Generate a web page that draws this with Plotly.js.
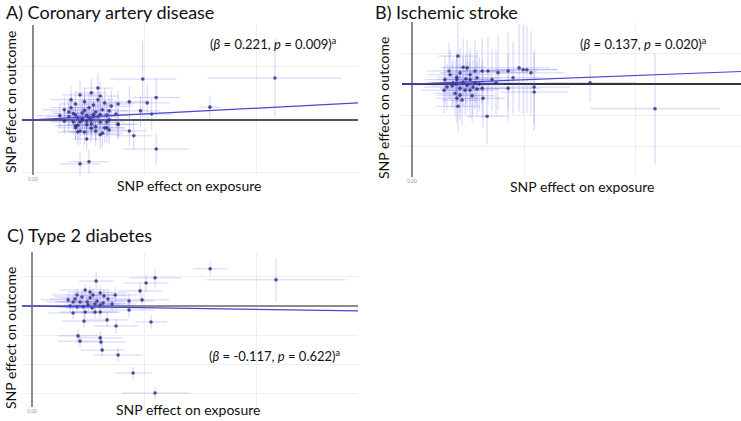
<!DOCTYPE html>
<html>
<head>
<meta charset="utf-8">
<script src="https://cdn.plot.ly/plotly-3.0.1.min.js"></script>
<style>
  html, body { margin: 0; padding: 0; background: #fff; }
  #graph { width: 741px; height: 421px; }
</style>
</head>
<body>
<div id="graph"></div>
<script>
// SNP effects: x = effect on exposure, y = effect on outcome,
// sx / sy = half width of the error bars

// A) Coronary artery disease
var cadX = [0.049,0.108,0.079,0.055,0.055,0.051,0.048,0.053,0.043,0.038,0.037,0.038,0.043,0.045,0.021,0.025,0.024,
  0.029,0.030,0.029,0.023,0.019,0.017,0.016,0.032,0.031,0.019,0.022,0.024,0.020,0.025,0.027,0.029,0.033,0.034,0.018,0.021,
  0.024,0.026,0.030,0.032,0.019,0.020,0.023,0.028,0.031,0.038,0.016,0.025,0.028,0.017,0.021,0.026,0.014,0.022,0.026,0.019,
  0.028,0.034,0.014,0.022,0.024,0.027,0.018,0.030,0.023,0.020,0.026,0.033,0.035,0.012,0.027,0.021,0.030,0.034,0.033];
var cadY = [0.077,0.079,0.024,-0.055,0.042,0.032,0.017,0.011,0.034,0.030,0.011,-0.009,-0.021,-0.030,-0.083,-0.079,-0.036,
  0.060,0.045,0.038,0.034,0.030,0.023,0.015,0.032,0.019,0.009,0.013,0.008,0.004,0.004,0.006,0.006,0.009,0.017,-0.004,-0.004,
  -0.009,-0.008,-0.004,-0.015,-0.015,-0.023,-0.023,-0.021,-0.025,-0.008,0.006,0.023,0.015,0.038,0.047,0.051,0.019,0.000,0.000,-0.011,
  -0.013,0.000,-0.002,0.002,-0.002,0.010,0.012,0.010,0.018,-0.010,-0.016,-0.004,0.026,0.008,0.028,-0.021,-0.028,-0.019,-0.015];
var cadSx = [0.015,0.030,0.005,0.015,0.011,0.010,0.009,0.009,0.009,0.007,0.007,0.007,0.008,0.008,0.009,0.009,0.006,
  0.007,0.008,0.007,0.008,0.007,0.009,0.008,0.008,0.007,0.009,0.008,0.010,0.008,0.009,0.007,0.008,0.009,0.008,0.010,0.008,
  0.009,0.007,0.008,0.009,0.008,0.009,0.007,0.008,0.009,0.009,0.010,0.008,0.007,0.009,0.008,0.007,0.010,0.009,0.008,0.009,
  0.008,0.009,0.010,0.008,0.009,0.007,0.009,0.008,0.007,0.009,0.008,0.008,0.009,0.010,0.008,0.008,0.009,0.008,0.008];
var cadSy = [0.072,0.075,0.022,0.030,0.038,0.034,0.030,0.030,0.030,0.026,0.026,0.026,0.028,0.028,0.023,0.023,0.023,
  0.028,0.027,0.026,0.025,0.024,0.026,0.025,0.028,0.026,0.024,0.025,0.027,0.024,0.025,0.026,0.027,0.028,0.027,0.024,0.025,
  0.026,0.025,0.027,0.028,0.024,0.025,0.026,0.027,0.028,0.029,0.024,0.026,0.027,0.025,0.026,0.027,0.024,0.025,0.026,0.024,
  0.027,0.028,0.024,0.025,0.026,0.026,0.024,0.027,0.025,0.025,0.026,0.028,0.029,0.023,0.027,0.025,0.027,0.028,0.028];

// B) Ischemic stroke
var strokeX = [0.0205,0.0165,0.020,0.0228,0.0246,0.0281,0.0313,0.0339,0.0384,0.0429,0.0478,0.0496,0.0513,0.0531,0.0451,0.0375,
  0.0795,0.0545,0.0545,0.0429,0.1085,0.0335,0.0205,0.020,0.0214,0.0237,0.0259,0.029,0.0313,0.0317,0.0179,0.0156,0.0147,0.0183,
  0.0228,0.0259,0.029,0.020,0.0246,0.0214,0.0272,0.0192,0.017,0.0214,0.0259,0.0281,0.0357,0.0143,0.0223,0.0268,0.0196,0.024,0.030];
var strokeY = [0.045,0.021,0.011,0.027,0.026,0.021,0.021,0.021,0.018,0.021,0.026,0.023,0.023,0.018,0.010,0.002,
  0.002,-0.005,-0.013,-0.007,-0.040,-0.052,-0.036,-0.023,-0.018,-0.010,-0.010,-0.008,-0.007,-0.023,-0.003,-0.005,0.007,0.002,
  0.003,0.007,0.010,0.007,-0.002,-0.007,-0.005,-0.015,0.015,0.018,0.015,0.002,0.007,-0.010,-0.026,-0.019,0.000,0.008,0.000];
var strokeSx = [0.009,0.010,0.009,0.010,0.009,0.011,0.010,0.012,0.013,0.013,0.014,0.015,0.014,0.015,0.013,0.012,
  0.020,0.016,0.015,0.014,0.029,0.009,0.010,0.009,0.010,0.009,0.011,0.010,0.011,0.010,0.009,0.010,0.009,0.010,
  0.009,0.010,0.011,0.009,0.010,0.009,0.010,0.009,0.010,0.009,0.010,0.011,0.012,0.010,0.009,0.010,0.009,0.010,0.011];
var strokeSy = [0.074,0.045,0.040,0.046,0.044,0.050,0.052,0.055,0.060,0.062,0.070,0.072,0.070,0.068,0.058,0.052,
  0.031,0.060,0.062,0.056,0.089,0.046,0.040,0.038,0.040,0.042,0.045,0.043,0.048,0.046,0.038,0.037,0.040,0.038,
  0.040,0.042,0.045,0.039,0.041,0.039,0.044,0.038,0.040,0.041,0.043,0.042,0.050,0.037,0.040,0.042,0.039,0.041,0.044];

// C) Type 2 diabetes
var t2dX = [0.0795,0.1089,0.0549,0.0509,0.0286,0.0482,0.0491,0.0433,0.0371,0.0433,0.0531,0.0375,0.0335,0.0232,0.0304,0.0281,
  0.0183,0.0205,0.0214,0.0304,0.0308,0.0313,0.0384,0.0451,0.0549,0.0237,0.0259,0.0304,0.0201,0.0223,0.0272,0.0339,0.0183,
  0.0214,0.0246,0.029,0.0317,0.0201,0.0228,0.0268,0.0304,0.0237,0.0161,0.0192,0.0259,0.0281,0.017,0.025,0.0321,0.0357];
var t2dY = [0.128,0.090,0.097,0.079,0.086,0.052,0.021,0.017,0.038,-0.014,-0.055,-0.069,-0.048,-0.052,-0.021,-0.021,
  -0.024,-0.103,-0.121,-0.110,-0.124,-0.152,-0.169,-0.231,-0.300,0.055,0.048,0.045,0.038,0.031,0.038,0.024,0.014,
  0.014,0.014,0.017,0.010,-0.003,-0.003,-0.007,0.003,-0.021,0.021,0.024,0.028,0.007,0.000,0.003,0.035,0.007];
var t2dSx = [0.0076,0.031,0.0116,0.010,0.0076,0.010,0.012,0.011,0.010,0.011,0.0071,0.010,0.009,0.010,0.009,0.010,
  0.011,0.009,0.010,0.010,0.011,0.010,0.011,0.0083,0.015,0.011,0.010,0.012,0.011,0.012,0.011,0.010,0.012,
  0.011,0.012,0.011,0.010,0.012,0.011,0.012,0.010,0.011,0.012,0.011,0.012,0.011,0.012,0.011,0.010,0.011];
var t2dSy = [0.026,0.076,0.030,0.030,0.030,0.028,0.026,0.025,0.026,0.025,0.024,0.025,0.024,0.024,0.023,0.023,
  0.022,0.022,0.022,0.023,0.023,0.024,0.025,0.020,0.020,0.022,0.022,0.023,0.022,0.022,0.023,0.024,0.021,
  0.022,0.022,0.023,0.023,0.021,0.022,0.022,0.023,0.022,0.021,0.021,0.022,0.022,0.021,0.022,0.023,0.023];

var betas = [0.221, 0.137, -0.117];
var titles = ['A) Coronary artery disease', 'B) Ischemic stroke', 'C) Type 2 diabetes'];
var stats = ['(<i>β</i> = 0.221, <i>p</i> = 0.009)<sup>a</sup>',
             '(<i>β</i> = 0.137, <i>p</i> = 0.020)<sup>a</sup>',
             '(<i>β</i> = -0.117, <i>p</i> = 0.622)<sup>a</sup>'];

var W = 741, H = 421;
function px(v){ return v / W; }
function py(v){ return 1 - v / H; }

var font = 'Lato, "Open Sans", sans-serif';

function points(x, y, sx, sy, n){
  return {
    x: x, y: y, xaxis: 'x' + n, yaxis: 'y' + n,
    mode: 'markers', type: 'scatter',
    marker: {size: 3.6, color: '#2c2c6e', opacity: 0.8},
    error_x: {type: 'data', array: sx, color: 'rgba(105,105,235,0.3)', thickness: 1, width: 0},
    error_y: {type: 'data', array: sy, color: 'rgba(105,105,235,0.3)', thickness: 1, width: 0},
    hoverinfo: 'skip'
  };
}

function fitLine(beta, range, n){
  return {
    x: range, y: [beta * range[0], beta * range[1]],
    xaxis: 'x' + n, yaxis: 'y' + n,
    mode: 'lines', type: 'scatter',
    line: {color: '#4646d8', width: 1.2},
    hoverinfo: 'skip'
  };
}

var xr = [[-0.0049, 0.1451], [-0.0045, 0.1469], [-0.0045, 0.1455]];
var yr = [[-0.104, 0.179], [-0.150, 0.100], [-0.348, 0.186]];

var data = [
  points(cadX, cadY, cadSx, cadSy, ''),
  fitLine(betas[0], xr[0], ''),
  points(strokeX, strokeY, strokeSx, strokeSy, 2),
  fitLine(betas[1], xr[1], 2),
  points(t2dX, t2dY, t2dSx, t2dSy, 3),
  fitLine(betas[2], xr[2], 3)
];

function xAxis(dom, range, anchor){
  return {
    domain: dom, range: range, anchor: anchor,
    showline: false, ticks: '',
    tickvals: [0], ticktext: ['0.00'],
    tickfont: {size: 5, color: '#999', family: font},
    showgrid: false,
    minor: {tickvals: [0.05, 0.10], showgrid: true, gridcolor: '#efeff2', gridwidth: 1, ticks: ''},
    zeroline: true, zerolinecolor: '#8a8a8a', zerolinewidth: 1.3
  };
}
function yAxis(dom, range, anchor, step, zc, zw){
  return {
    domain: dom, range: range, anchor: anchor,
    showline: false, ticks: '', showticklabels: false,
    dtick: step, tick0: 0,
    showgrid: true, gridcolor: '#efeff2', gridwidth: 1,
    zeroline: true, zerolinecolor: zc, zerolinewidth: zw
  };
}

var ann = [];
function label(text, x, y, size, opts){
  var a = {text: text, xref: 'paper', yref: 'paper', x: x, y: y,
           showarrow: false, font: {family: font, size: size, color: '#111'},
           xanchor: 'center', yanchor: 'middle'};
  for (var k in opts) a[k] = opts[k];
  ann.push(a);
}

// panel titles
label(titles[0], px(4), py(12), 18, {xanchor: 'left'});
label(titles[1], px(373), py(12), 18, {xanchor: 'left'});
label(titles[2], px(5), py(235), 18, {xanchor: 'left'});
// axis titles
label('SNP effect on exposure', px(189), py(186), 14);
label('SNP effect on exposure', px(582), py(187), 14);
label('SNP effect on exposure', px(188), py(409), 14);
label('SNP effect on outcome', px(10), py(102), 14, {textangle: -90});
label('SNP effect on outcome', px(384), py(108), 14, {textangle: -90});
label('SNP effect on outcome', px(10), py(338), 14, {textangle: -90});
// estimates
label(stats[0], px(273), py(43), 13);
label(stats[1], px(643), py(43), 13);
label(stats[2], px(274), py(355), 13);

var layout = {
  width: W, height: H,
  margin: {l: 0, r: 0, t: 0, b: 0},
  paper_bgcolor: '#fff', plot_bgcolor: '#fff',
  showlegend: false,
  xaxis:  xAxis([px(22), px(358)], xr[0], 'y'),
  yaxis:  yAxis([py(175), py(25)], yr[0], 'x', 0.1, '#555', 1.3),
  xaxis2: xAxis([px(402), 1], xr[1], 'y2'),
  yaxis2: yAxis([py(177), py(22)], yr[1], 'x2', 0.05, '#333', 1.5),
  xaxis3: xAxis([px(22), px(358)], xr[2], 'y3'),
  yaxis3: yAxis([py(407), py(252)], yr[2], 'x3', 0.1, '#8c8c8c', 2.2),
  annotations: ann
};

Plotly.newPlot('graph', data, layout, {staticPlot: true});
</script>
</body>
</html>
